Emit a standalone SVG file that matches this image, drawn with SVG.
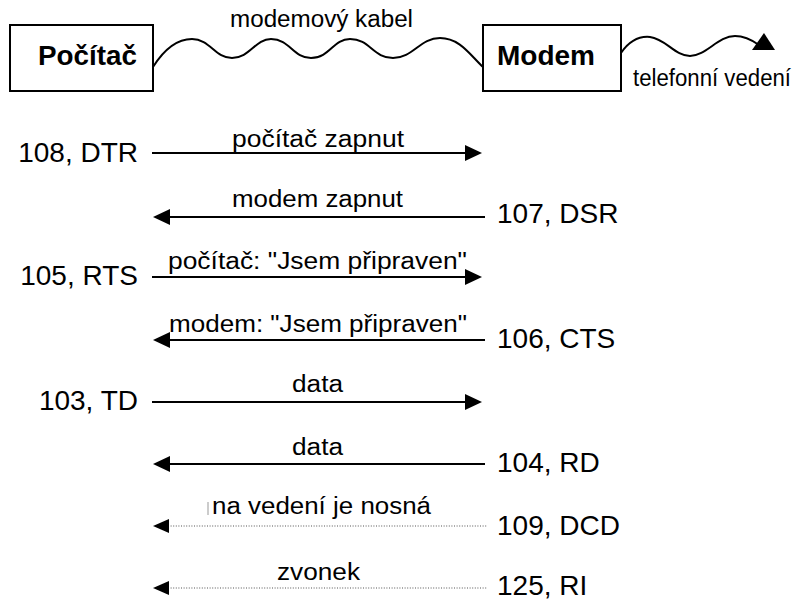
<svg xmlns="http://www.w3.org/2000/svg" width="803" height="602" viewBox="0 0 803 602">
<style>
text{font-family:"Liberation Sans",Arial,sans-serif;fill:#000}
.box{fill:#fff;stroke:#000;stroke-width:2}
.bt{font-size:27px;font-weight:bold}
.sm{font-size:23px}
.lb{font-size:28px}
.wave{fill:none;stroke:#000;stroke-width:2}
.sol{stroke:#000;stroke-width:2;fill:none}
.dot{stroke:#555;stroke-width:1.2;stroke-dasharray:1 1.6;fill:none}
.ah{fill:#000}
</style>
<g id="pocitac">
<rect class="box" x="10" y="25" width="143" height="66"/>
<text class="bt" x="38" y="65" textLength="99" lengthAdjust="spacingAndGlyphs">Počítač</text>
</g>
<g id="modem">
<rect class="box" x="483" y="25" width="138" height="66"/>
<text class="bt" x="497" y="65" textLength="98" lengthAdjust="spacingAndGlyphs">Modem</text>
</g>
<g id="connectors">
<path class="wave" d="M153,67 C165,48 178,39 192,39 C210,39 215,58 232,58 C250,58 255,39 271,39 C290,39 293,58 311,58 C330,58 333,39 350,39 C370,39 373,58 393,58 C413,58 420,38 440,38 C460,38 470,55 483,67"/>
<path class="wave" d="M621,53 C630,40 640,36 650,37 C666,39 675,56 690,56 C706,56 718,36 735,36 C745,36 752,40 759,45"/>
<polygon class="ah" points="764,33 752,50 775,50"/>
<line class="sol" x1="152" y1="153" x2="468" y2="153"/><polygon class="ah" points="482,153 465,145 465,161"/>
<line class="sol" x1="168" y1="217" x2="485" y2="217"/><polygon class="ah" points="153,217 170,209 170,225"/>
<line class="sol" x1="152" y1="277" x2="468" y2="277"/><polygon class="ah" points="482,277 465,269 465,285"/>
<line class="sol" x1="168" y1="340" x2="485" y2="340"/><polygon class="ah" points="153,340 170,332 170,348"/>
<line class="sol" x1="152" y1="402" x2="468" y2="402"/><polygon class="ah" points="482,402 465,394 465,410"/>
<line class="sol" x1="168" y1="464" x2="485" y2="464"/><polygon class="ah" points="153,464 170,456 170,472"/>
<line class="dot" x1="168" y1="526" x2="487" y2="526"/><polygon class="ah" points="153,526 169,519 169,533"/>
<line class="dot" x1="168" y1="588" x2="487" y2="588"/><polygon class="ah" points="153,588 169,581 169,595"/>
</g>
<g id="labels">
<text class="sm" x="230" y="27" textLength="183" lengthAdjust="spacingAndGlyphs">modemový kabel</text>
<text class="sm" x="633" y="86" textLength="158" lengthAdjust="spacingAndGlyphs">telefonní vedení</text>
<text class="sm" x="232" y="147" textLength="172" lengthAdjust="spacingAndGlyphs">počítač zapnut</text>
<text class="sm" x="232" y="207" textLength="171" lengthAdjust="spacingAndGlyphs">modem zapnut</text>
<text class="sm" x="168" y="269" textLength="299" lengthAdjust="spacingAndGlyphs">počítač: "Jsem připraven"</text>
<text class="sm" x="169" y="332" textLength="298" lengthAdjust="spacingAndGlyphs">modem: "Jsem připraven"</text>
<text class="sm" x="292" y="392" textLength="51" lengthAdjust="spacingAndGlyphs">data</text>
<text class="sm" x="292" y="455" textLength="51" lengthAdjust="spacingAndGlyphs">data</text>
<line x1="208" y1="502" x2="208" y2="515" stroke="#999" stroke-width="1"/>
<text class="sm" x="212" y="514" textLength="219" lengthAdjust="spacingAndGlyphs">na vedení je nosná</text>
<text class="sm" x="277" y="580" textLength="83" lengthAdjust="spacingAndGlyphs">zvonek</text>
<text class="lb" x="138" y="162" text-anchor="end">108, DTR</text>
<text class="lb" x="138" y="285" text-anchor="end">105, RTS</text>
<text class="lb" x="138" y="410" text-anchor="end">103, TD</text>
<text class="lb" x="497" y="223">107, DSR</text>
<text class="lb" x="497" y="348">106, CTS</text>
<text class="lb" x="497" y="472">104, RD</text>
<text class="lb" x="497" y="535">109, DCD</text>
<text class="lb" x="497" y="595">125, RI</text>
</g>
</svg>
